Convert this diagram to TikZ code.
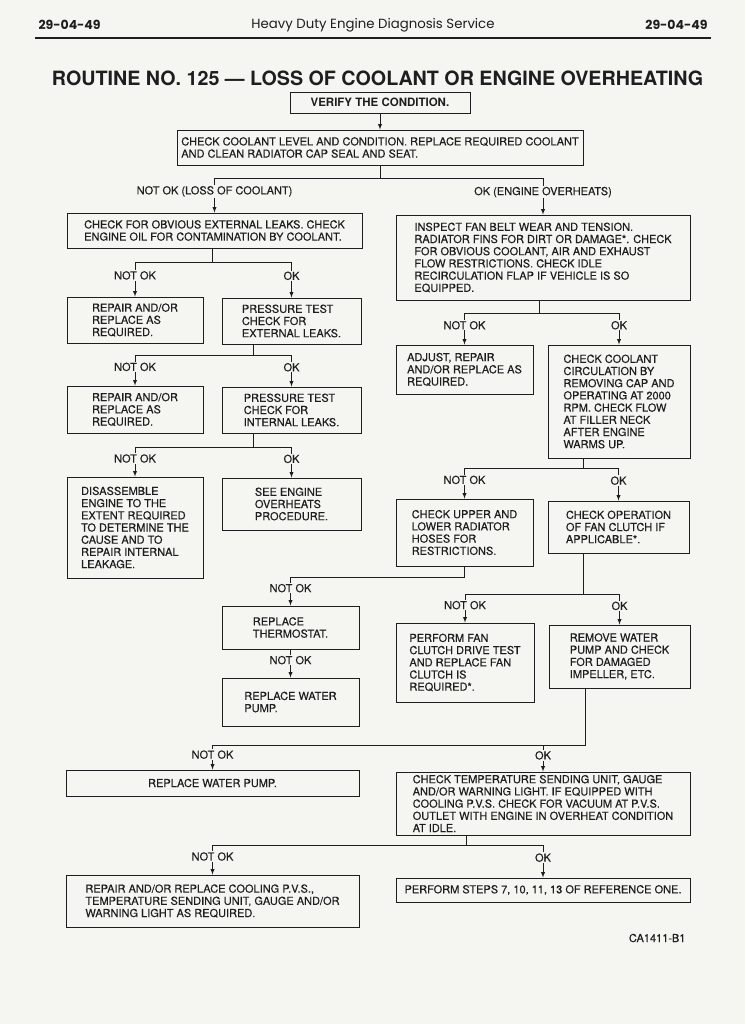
\documentclass[tikz,border=0pt]{standalone}
\usepackage{fontspec}
\setmainfont{TeX Gyre Heros}
\newfontfamily\boxfont[FakeBold=0.3]{TeX Gyre Heros}
\newfontfamily\headfont{Poppins}
\usepackage{tikz}
\definecolor{paper}{RGB}{245,245,242}
\definecolor{ink}{RGB}{30,30,30}

\begin{document}
\begin{tikzpicture}[x=1pt,y=-1pt,
    box/.style={draw=ink, line width=0.9pt, inner sep=2pt, align=left, text=ink, font=\boxfont\fontsize{11}{12.2}\selectfont},
    lbl/.style={fill=paper, inner sep=1pt, text=ink, pos=0.38, font=\boxfont\fontsize{11}{12}\selectfont},
    con/.style={draw=ink, line width=0.9pt},
    arr/.style={con, -latex}]
    \def\fork#1#2#3#4#5{
    \draw[con] (#2.north |- #1) -- (#3.north |- #1);
    \draw[arr] (#2.north |- #1) -- node[lbl] {#4} (#2.north);
    \draw[arr] (#3.north |- #1) -- node[lbl] {#5} (#3.north);
    }

    \fill[paper] (0,0) rectangle (745,1024);
    \useasboundingbox (0,0) rectangle (745,1024);

    \node[anchor=west, text=ink, font=\headfont\fontsize{12.5}{14}\bfseries] (pgleft) at (35,25) {29-04-49};
    \node[text=ink, font=\headfont\fontsize{13.3}{15}\selectfont] (header) at (373,25) {Heavy Duty Engine Diagnosis Service};
    \node[anchor=east, text=ink, font=\headfont\fontsize{12.5}{14}\bfseries] (pgright) at (711,25) {29-04-49};
    \draw[ink, line width=1.5pt] (35,38) -- (711,38);

    \node[text=ink, font=\fontsize{19.7}{22}\bfseries] (title) at (377.5,78.5) {ROUTINE NO. 125 — LOSS OF COOLANT OR ENGINE OVERHEATING};

    \node[box, minimum width=180, minimum height=21, font=\fontsize{11.5}{13}\bfseries] (verify) at (380,102.5) {VERIFY THE CONDITION.};
    \node[box, minimum width=406, minimum height=35] (level) at (380,147.5) {CHECK COOLANT LEVEL AND CONDITION. REPLACE REQUIRED COOLANT\\AND CLEAN RADIATOR CAP SEAL AND SEAT.};

    \node[box, minimum width=295, minimum height=35] (leaks) at (214.5,230.5) {CHECK FOR OBVIOUS EXTERNAL LEAKS. CHECK\\ENGINE OIL FOR CONTAMINATION BY COOLANT.};
    \node[box, minimum width=136, minimum height=46] (repA) at (135,320) {REPAIR AND/OR\\REPLACE AS\\REQUIRED.};
    \node[box, minimum width=139, minimum height=46] (pext) at (291.5,321) {PRESSURE TEST\\CHECK FOR\\EXTERNAL LEAKS.};
    \node[box, minimum width=136, minimum height=47] (repB) at (135,409.5) {REPAIR AND/OR\\REPLACE AS\\REQUIRED.};
    \node[box, minimum width=139, minimum height=46] (pint) at (291.5,410) {PRESSURE TEST\\CHECK FOR\\INTERNAL LEAKS.};
    \node[box, minimum width=136, minimum height=101] (disasm) at (135,527.5) {DISASSEMBLE\\ENGINE TO THE\\EXTENT REQUIRED\\TO DETERMINE THE\\CAUSE AND TO\\REPAIR INTERNAL\\LEAKAGE.};
    \node[box, minimum width=139, minimum height=52] (seeeng) at (291.5,504) {SEE ENGINE\\OVERHEATS\\PROCEDURE.};

    \node[box, minimum width=294, minimum height=85] (inspect) at (543,257.5) {INSPECT FAN BELT WEAR AND TENSION.\\RADIATOR FINS FOR DIRT OR DAMAGE*. CHECK\\FOR OBVIOUS COOLANT, AIR AND EXHAUST\\FLOW RESTRICTIONS. CHECK IDLE\\RECIRCULATION FLAP IF VEHICLE IS SO\\EQUIPPED.};
    \node[box, minimum width=137, minimum height=49] (adjust) at (464.5,369.5) {ADJUST, REPAIR\\AND/OR REPLACE AS\\REQUIRED.};
    \node[box, minimum width=142, minimum height=113] (circ) at (619,401.5) {CHECK COOLANT\\CIRCULATION BY\\REMOVING CAP AND\\OPERATING AT 2000\\RPM. CHECK FLOW\\AT FILLER NECK\\AFTER ENGINE\\WARMS UP.};
    \node[box, minimum width=137, minimum height=67] (hoses) at (464.5,532.5) {CHECK UPPER AND\\LOWER RADIATOR\\HOSES FOR\\RESTRICTIONS.};
    \node[box, minimum width=141, minimum height=52] (clutch) at (618.5,527) {CHECK OPERATION\\OF FAN CLUTCH IF\\APPLICABLE*.};

    \node[box, minimum width=137, minimum height=43] (thermo) at (290.5,627.5) {REPLACE\\THERMOSTAT.};
    \node[box, minimum width=137, minimum height=48] (pumpA) at (290.5,702) {REPLACE WATER\\PUMP.};
    \node[box, minimum width=138, minimum height=79] (fantest) at (465,662.5) {PERFORM FAN\\CLUTCH DRIVE TEST\\AND REPLACE FAN\\CLUTCH IS\\REQUIRED*.};
    \node[box, minimum width=141, minimum height=63] (remove) at (619.5,656.5) {REMOVE WATER\\PUMP AND CHECK\\FOR DAMAGED\\IMPELLER, ETC.};

    \node[box, minimum width=293, minimum height=26] (pumpB) at (212.5,783) {REPLACE WATER PUMP.};
    \node[box, minimum width=294, minimum height=63] (temp) at (543,803.5) {CHECK TEMPERATURE SENDING UNIT, GAUGE\\AND/OR WARNING LIGHT. IF EQUIPPED WITH\\COOLING P.V.S. CHECK FOR VACUUM AT P.V.S.\\OUTLET WITH ENGINE IN OVERHEAT CONDITION\\AT IDLE.};
    \node[box, minimum width=293, minimum height=52] (pvs) at (212.5,901) {REPAIR AND/OR REPLACE COOLING P.V.S.,\\TEMPERATURE SENDING UNIT, GAUGE AND/OR\\WARNING LIGHT AS REQUIRED.};
    \node[box, minimum width=294, minimum height=24] (steps) at (543,890) {PERFORM STEPS 7, 10, 11, 13 OF REFERENCE ONE.};

    \node[anchor=east, text=ink, font=\boxfont\fontsize{11}{12}\selectfont] (figcode) at (689,938) {CA1411-B1};

    \draw[arr] (verify) -- (level);
    \draw[con] (level.south) -- ++(0,13) coordinate (bar1);
    \fork{bar1}{leaks}{inspect}{NOT OK (LOSS OF COOLANT)}{OK (ENGINE OVERHEATS)}
    \draw[con] ([xshift=-2]leaks.south) -- ++(0,14) coordinate (bar2);
    \fork{bar2}{repA}{pext}{NOT OK}{OK}
    \draw[con] ([xshift=-38]pext.south) -- ++(0,11) coordinate (bar3);
    \fork{bar3}{repB}{pint}{NOT OK}{OK}
    \draw[con] ([xshift=-38]pint.south) -- ++(0,14) coordinate (bar4);
    \fork{bar4}{disasm}{seeeng}{NOT OK}{OK}
    \draw[con] ([xshift=-4]inspect.south) -- ++(0,13) coordinate (bar5);
    \fork{bar5}{adjust}{circ}{NOT OK}{OK}
    \draw[con] ([xshift=-36]circ.south) -- ++(0,10) coordinate (bar6);
    \fork{bar6}{hoses}{clutch}{NOT OK}{OK}
    \draw[con] (hoses.south) -- ++(0,11) coordinate (bar7) -- (thermo.north |- bar7);
    \draw[arr] (thermo.north |- bar7) -- node[lbl] {NOT OK} (thermo.north);
    \draw[arr] (thermo) -- node[lbl] {NOT OK} (pumpA);
    \draw[con] ([xshift=-35.5]clutch.south) -- ++(0,41) coordinate (bar8);
    \fork{bar8}{fantest}{remove}{NOT OK}{OK}
    \draw[con] ([xshift=-34]remove.south) -- ++(0,57) coordinate (bar9) -- (temp.north |- bar9);
    \fork{bar9}{pumpB}{temp}{NOT OK}{OK}
    \draw[con] ([xshift=-77]temp.south) -- ++(0,10) coordinate (bar10);
    \fork{bar10}{pvs}{steps}{NOT OK}{OK}

\end{tikzpicture}
\end{document}
